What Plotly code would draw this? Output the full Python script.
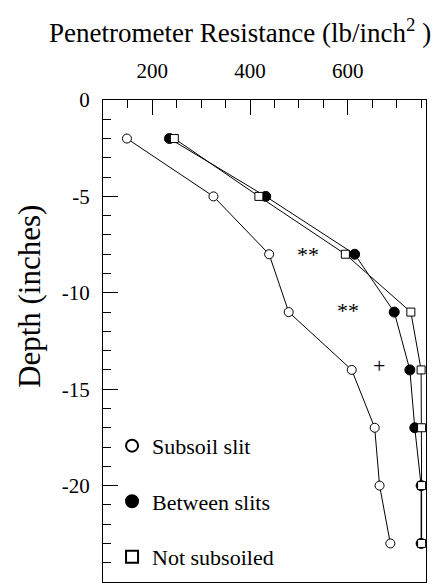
import plotly.graph_objects as go

# Depth of each penetrometer reading (inches, negative = below surface)
depth = [-2, -5, -8, -11, -14, -17, -20, -23]

# Penetrometer resistance (lb/inch^2) for each treatment
subsoil_slit = [148, 325, 439, 479, 608, 655, 665, 687]
between_slits = [235, 432, 614, 695, 727, 737, 750, 750]
not_subsoiled = [245, 418, 595, 729, 750, 751, 751, 751]

series_names = ["Subsoil slit", "Between slits", "Not subsoiled"]

# Significance markers placed beside the curves
sig_text = ["**", "**", "+"]
sig_x = [518, 601, 664]
sig_y = [-8.0, -10.9, -13.75]

x_tickvals = [200, 400, 600]
x_ticktext = ["200", "400", "600"]
y_tickvals = [0, -5, -10, -15, -20, -25]
y_ticktext = ["0", "-5", "-10", "-15", "-20", "-25"]

FONT = "Liberation Serif, Times New Roman, Times, serif"

open_circle = dict(symbol="circle", size=9, color="white",
                   line=dict(color="black", width=1))
filled_circle = dict(symbol="circle", size=10, color="black",
                     line=dict(color="black", width=1))
open_square = dict(symbol="square", size=8, color="white",
                   line=dict(color="black", width=1))
styles = [open_circle, filled_circle, open_square]

fig = go.Figure()

for vals, name, mk in zip([subsoil_slit, between_slits, not_subsoiled],
                          series_names, styles):
    fig.add_trace(go.Scatter(
        x=vals, y=depth, mode="lines+markers", name=name,
        line=dict(color="black", width=1), marker=mk,
        showlegend=False, cliponaxis=False,
    ))

# Marker-only legend entries (no line sample)
for i, (name, mk) in enumerate(zip(series_names, styles)):
    fig.add_trace(go.Scatter(
        x=[None], y=[None], mode="markers", name=name, marker=mk,
        legendgroup=f"g{i}", showlegend=True,
    ))

for t, x, y in zip(sig_text, sig_x, sig_y):
    fig.add_annotation(x=x, y=y, text=t, showarrow=False,
                       font=dict(family=FONT, size=22, color="black"))

# Rotated y-axis title
fig.add_annotation(xref="paper", yref="paper", x=-0.228, y=0.592,
                   xanchor="center", yanchor="middle",
                   text="Depth (inches)", textangle=-90, showarrow=False,
                   font=dict(family=FONT, size=31, color="black"))

fig.update_layout(
    width=435, height=587,
    margin=dict(l=103, r=9, t=100, b=5),
    paper_bgcolor="white", plot_bgcolor="white",
    font=dict(family=FONT, color="black"),
    title=dict(text="Penetrometer Resistance (lb/inch<sup>2</sup> )",
               x=0.552, xref="container", xanchor="center",
               y=1 - 33 / 587, yref="container", yanchor="middle",
               font=dict(family=FONT, size=27, color="black")),
    legend=dict(x=0.028, y=0.326, xanchor="left", yanchor="top",
                bgcolor="rgba(0,0,0,0)", font=dict(family=FONT, size=22),
                itemsizing="constant", tracegroupgap=24),
    showlegend=True,
)

fig.update_xaxes(
    side="top", range=[99, 760], showgrid=False, zeroline=False,
    showline=True, linecolor="black", linewidth=1, mirror=True,
    ticks="inside", ticklen=15, tickwidth=1, tickcolor="black",
    tickvals=x_tickvals, ticktext=x_ticktext, ticklabelstandoff=13,
    tickfont=dict(family=FONT, size=21, color="black"),
    minor=dict(dtick=50, tick0=0, ticks="inside", ticklen=8,
               tickcolor="black", tickwidth=1, showgrid=False),
)
fig.update_yaxes(
    range=[-25, 0], showgrid=False, zeroline=False,
    showline=True, linecolor="black", linewidth=1, mirror=True,
    ticks="inside", ticklen=15, tickwidth=1, tickcolor="black",
    tickvals=y_tickvals, ticktext=y_ticktext, ticklabelstandoff=8,
    tickfont=dict(family=FONT, size=21, color="black"),
    minor=dict(dtick=1, tick0=0, ticks="inside", ticklen=8,
               tickcolor="black", tickwidth=1, showgrid=False),
)

fig.write_html("out.html")
